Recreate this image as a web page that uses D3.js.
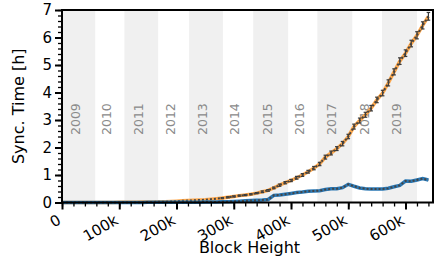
<!DOCTYPE html>
<html>
<head>
<meta charset="utf-8">
<script src="https://cdn.jsdelivr.net/npm/d3@7"></script>
<style>
  body { margin: 0; background: #fff; }
  text { font-family: "DejaVu Sans", sans-serif; }
</style>
</head>
<body>
<div id="chart"></div>
<script>
// block heights of the sampled points (every 10k blocks)
var blocks = d3.range(0, 650000, 10000);

// sync time of the orange run [h]
var slowTime = [
  0.00, 0.00, 0.00, 0.00, 0.00, 0.00, 0.00, 0.00, 0.00, 0.00,
  0.01, 0.01, 0.01, 0.01, 0.02, 0.02, 0.02, 0.03, 0.03, 0.04,
  0.05, 0.06, 0.07, 0.08, 0.09, 0.10, 0.12, 0.14, 0.16, 0.19,
  0.22, 0.25, 0.27, 0.30, 0.34, 0.39, 0.44, 0.53, 0.63, 0.72,
  0.80, 0.90, 1.00, 1.12, 1.25, 1.40, 1.65, 1.80, 1.96, 2.14,
  2.40, 2.76, 2.98, 3.19, 3.43, 3.73, 3.98, 4.35, 4.75, 5.14,
  5.43, 5.78, 6.08, 6.44, 6.77
];
// error of the orange run [h]
var slowErr = [
  0, 0, 0, 0, 0, 0, 0, 0, 0, 0,
  0, 0, 0, 0, 0, 0, 0, 0, 0, 0,
  0.01, 0.01, 0.01, 0.01, 0.01, 0.01, 0.01, 0.01, 0.02, 0.02,
  0.02, 0.02, 0.02, 0.02, 0.02, 0.03, 0.03, 0.03, 0.04, 0.04,
  0.04, 0.05, 0.05, 0.05, 0.06, 0.06, 0.07, 0.07, 0.07, 0.08,
  0.08, 0.09, 0.09, 0.09, 0.10, 0.10, 0.10, 0.11, 0.11, 0.12,
  0.12, 0.12, 0.13, 0.13, 0.14
];
// sync time of the blue run [h]
var fastTime = [
  0.00, 0.00, 0.00, 0.00, 0.00, 0.00, 0.00, 0.00, 0.00, 0.00,
  0.00, 0.00, 0.00, 0.00, 0.00, 0.01, 0.01, 0.01, 0.01, 0.01,
  0.01, 0.01, 0.01, 0.01, 0.01, 0.02, 0.02, 0.02, 0.03, 0.03,
  0.04, 0.05, 0.06, 0.07, 0.08, 0.09, 0.11, 0.26, 0.27, 0.30,
  0.33, 0.36, 0.38, 0.41, 0.42, 0.43, 0.47, 0.50, 0.50, 0.54,
  0.66, 0.59, 0.53, 0.50, 0.49, 0.49, 0.49, 0.52, 0.57, 0.62,
  0.78, 0.77, 0.82, 0.87, 0.82
];

// year shading (block height where each year begins)
var years = ["2009", "2010", "2011", "2012", "2013", "2014", "2015", "2016", "2017", "2018", "2019"];
var yearStart = [0, 58000, 109000, 168000, 222000, 281000, 334000, 395000, 446000, 507000, 559000, 620000];

var xTicks = [0, 100000, 200000, 300000, 400000, 500000, 600000];
var xTickLabels = ["0", "100k", "200k", "300k", "400k", "500k", "600k"];
var yTicks = [0, 1, 2, 3, 4, 5, 6, 7];

var width = 439, height = 261;
var margin = {top: 10, right: 6, bottom: 58.5, left: 62};
var w = width - margin.left - margin.right;
var h = height - margin.top - margin.bottom;

var svg = d3.select("#chart").append("svg")
    .attr("width", width)
    .attr("height", height);

var g = svg.append("g")
    .attr("transform", "translate(" + margin.left + "," + margin.top + ")");

var x = d3.scaleLinear().domain([0, 648000]).range([0, w]);
var y = d3.scaleLinear().domain([0, 7]).range([h, 0]);

// year bands, labels start near y = 135 in page coordinates
var yearLabelY = 135 - margin.top;
years.forEach(function(yr, i) {
    var x0 = x(yearStart[i]), x1 = x(yearStart[i + 1]);
    if (i % 2 === 0) {
        g.append("rect")
            .attr("x", x0).attr("y", 0)
            .attr("width", x1 - x0).attr("height", h)
            .attr("fill", "#f0f0f0");
    }
    g.append("text")
        .attr("transform", "translate(" + ((x0 + x1) / 2 - 3) + "," + yearLabelY + ") rotate(-90)")
        .attr("dy", "0.35em")
        .attr("fill", "#8a8a8a")
        .style("font-size", "12.5px")
        .text(yr);
});

var line = d3.line()
    .x(function(d, i) { return x(blocks[i]); })
    .y(function(d) { return y(d); });

// orange run
g.append("path").datum(slowTime)
    .attr("d", line)
    .attr("fill", "none")
    .attr("stroke", "#ffa94d")
    .attr("stroke-width", 3.5);

// error bars
var eb = g.append("g").attr("stroke", "#3a3a3a").attr("stroke-width", 1.2);
slowTime.forEach(function(v, i) {
    if (slowErr[i] < 0.02) return;
    var cx = x(blocks[i]);
    var lo = y(v - slowErr[i]), hi = y(v + slowErr[i]);
    eb.append("line").attr("x1", cx).attr("x2", cx).attr("y1", lo).attr("y2", hi);
    eb.append("line").attr("x1", cx - 1.8).attr("x2", cx + 1.8).attr("y1", lo).attr("y2", lo);
    eb.append("line").attr("x1", cx - 1.8).attr("x2", cx + 1.8).attr("y1", hi).attr("y2", hi);
});

g.append("path").datum(slowTime)
    .attr("d", line)
    .attr("fill", "none")
    .attr("stroke", "#444")
    .attr("stroke-width", 2)
    .attr("stroke-dasharray", "2,2");

// blue run
g.append("path").datum(fastTime)
    .attr("d", line)
    .attr("fill", "none")
    .attr("stroke", "#2b78b4")
    .attr("stroke-width", 3.5);

g.append("path").datum(fastTime)
    .attr("d", line)
    .attr("fill", "none")
    .attr("stroke", "#444")
    .attr("stroke-width", 2)
    .attr("stroke-dasharray", "2,2");

// frame
g.append("rect")
    .attr("x", 0).attr("y", 0).attr("width", w).attr("height", h)
    .attr("fill", "none").attr("stroke", "#000").attr("stroke-width", 2);

// minor ticks
var xMinor = g.append("g").attr("transform", "translate(0," + h + ")")
    .call(d3.axisBottom(x).tickValues(d3.range(0, 648000, 20000)).tickSize(4).tickFormat(""));
var yMinor = g.append("g")
    .call(d3.axisLeft(y).tickValues(d3.range(0, 7.01, 0.2)).tickSize(4).tickFormat(""));
[xMinor, yMinor].forEach(function(a) {
    a.select(".domain").remove();
    a.selectAll(".tick line").attr("stroke", "#000").attr("stroke-width", 1.3);
});

// major ticks
var xAxis = g.append("g").attr("transform", "translate(0," + h + ")")
    .call(d3.axisBottom(x).tickValues(xTicks).tickSize(7)
        .tickFormat(function(d, i) { return xTickLabels[i]; }));
xAxis.selectAll(".tick text")
    .style("font-size", "15px")
    .attr("fill", "#000")
    .attr("text-anchor", "end")
    .attr("x", 0).attr("y", 0)
    .attr("dy", "0.35em")
    .attr("transform", "translate(-3,16) rotate(-30)");

var yAxis = g.append("g")
    .call(d3.axisLeft(y).tickValues(yTicks).tickSize(7).tickPadding(3).tickFormat(d3.format("d")));
yAxis.selectAll(".tick text").style("font-size", "15px").attr("fill", "#000");

[xAxis, yAxis].forEach(function(a) {
    a.select(".domain").remove();
    a.selectAll(".tick line").attr("stroke", "#000").attr("stroke-width", 2);
});

// axis titles
svg.append("text")
    .attr("x", margin.left + w / 2 + 2)
    .attr("y", 253)
    .attr("text-anchor", "middle")
    .style("font-size", "16px")
    .text("Block Height");

svg.append("text")
    .attr("transform", "translate(24," + (margin.top + h / 2) + ") rotate(-90)")
    .attr("text-anchor", "middle")
    .style("font-size", "16px")
    .text("Sync. Time [h]");
</script>
</body>
</html>
